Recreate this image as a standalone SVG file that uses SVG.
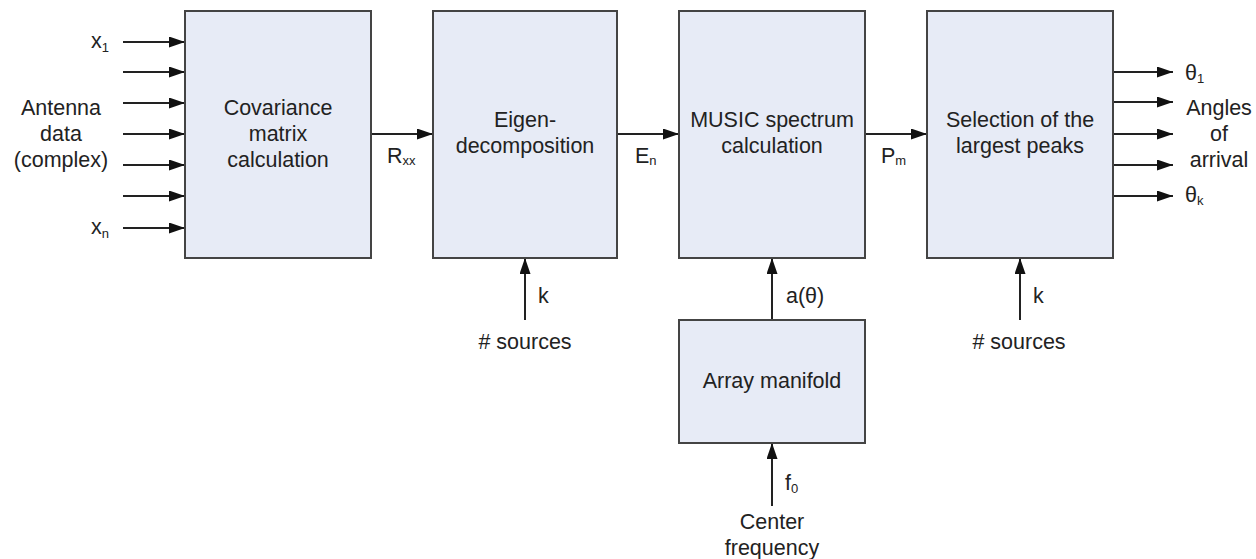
<svg xmlns="http://www.w3.org/2000/svg" width="1256" height="559" viewBox="0 0 1256 559">
  <style>
    .box { fill: #e7ebf6; stroke: #444; stroke-width: 2; }
    .lbl { font-family: "Liberation Sans", Arial, sans-serif; font-size: 21.5px; fill: #222; }
    .mid { text-anchor: middle; }
    .sub { font-size: 13px; }
    .wire { stroke: #222; stroke-width: 2; fill: none; marker-end: url(#head); }
  </style>
  <defs>
    <marker id="head" markerUnits="userSpaceOnUse" markerWidth="17" markerHeight="12" refX="16" refY="5.5" orient="auto">
      <path d="M0,0 L16,5.5 L0,11 z" fill="#111"/>
    </marker>
  </defs>

  <!-- connectors -->
  <g id="connectors">
    <!-- antenna inputs -->
    <line class="wire" x1="123" y1="42" x2="185" y2="42"/>
    <line class="wire" x1="123" y1="72" x2="185" y2="72"/>
    <line class="wire" x1="123" y1="103" x2="185" y2="103"/>
    <line class="wire" x1="123" y1="134" x2="185" y2="134"/>
    <line class="wire" x1="123" y1="165" x2="185" y2="165"/>
    <line class="wire" x1="123" y1="196" x2="185" y2="196"/>
    <line class="wire" x1="123" y1="228" x2="185" y2="228"/>
    <!-- main chain -->
    <line class="wire" x1="371" y1="134" x2="433" y2="134"/>
    <line class="wire" x1="617" y1="134" x2="679" y2="134"/>
    <line class="wire" x1="865" y1="134" x2="927" y2="134"/>
    <!-- side inputs -->
    <line class="wire" x1="525" y1="320" x2="525" y2="258"/>
    <line class="wire" x1="772" y1="320" x2="772" y2="258"/>
    <line class="wire" x1="772" y1="506" x2="772" y2="443"/>
    <line class="wire" x1="1020" y1="320" x2="1020" y2="258"/>
    <!-- outputs -->
    <line class="wire" x1="1113" y1="72" x2="1173" y2="72"/>
    <line class="wire" x1="1113" y1="102" x2="1173" y2="102"/>
    <line class="wire" x1="1113" y1="134" x2="1173" y2="134"/>
    <line class="wire" x1="1113" y1="165" x2="1173" y2="165"/>
    <line class="wire" x1="1113" y1="196" x2="1173" y2="196"/>
  </g>

  <!-- connector labels -->
  <g id="labels">
    <text class="lbl" x="91" y="48">x<tspan class="sub" dy="4">1</tspan></text>
    <text class="lbl" x="91" y="234">x<tspan class="sub" dy="4">n</tspan></text>
    <text class="lbl mid" x="61" y="115">Antenna</text>
    <text class="lbl mid" x="61" y="141">data</text>
    <text class="lbl mid" x="61" y="167">(complex)</text>
    <text class="lbl" x="387" y="163">R<tspan class="sub" dy="2">xx</tspan></text>
    <text class="lbl" x="635" y="163">E<tspan class="sub" dy="2">n</tspan></text>
    <text class="lbl" x="881" y="163">P<tspan class="sub" dy="2">m</tspan></text>
    <text class="lbl" x="538" y="303">k</text>
    <text class="lbl mid" x="525" y="349"># sources</text>
    <text class="lbl" x="786" y="303">a(θ)</text>
    <text class="lbl" x="785" y="490">f<tspan class="sub" dy="3">0</tspan></text>
    <text class="lbl mid" x="772" y="529">Center</text>
    <text class="lbl mid" x="772" y="555">frequency</text>
    <text class="lbl" x="1033" y="303">k</text>
    <text class="lbl mid" x="1019" y="349"># sources</text>
    <text class="lbl" x="1185" y="80">θ<tspan class="sub" dy="3">1</tspan></text>
    <text class="lbl mid" x="1219" y="115">Angles</text>
    <text class="lbl mid" x="1219" y="141">of</text>
    <text class="lbl mid" x="1219" y="167">arrival</text>
    <text class="lbl" x="1185" y="202">θ<tspan class="sub" dy="3">k</tspan></text>
  </g>

  <g id="covariance">
    <rect class="box" x="185" y="11" width="186" height="247"/>
    <text class="lbl mid" x="278" y="115">Covariance</text>
    <text class="lbl mid" x="278" y="141">matrix</text>
    <text class="lbl mid" x="278" y="167">calculation</text>
  </g>

  <g id="eigen">
    <rect class="box" x="433" y="11" width="184" height="247"/>
    <text class="lbl mid" x="525" y="127">Eigen-</text>
    <text class="lbl mid" x="525" y="153">decomposition</text>
  </g>

  <g id="music">
    <rect class="box" x="679" y="11" width="186" height="247"/>
    <text class="lbl mid" x="772" y="127">MUSIC spectrum</text>
    <text class="lbl mid" x="772" y="153">calculation</text>
  </g>

  <g id="peaks">
    <rect class="box" x="927" y="11" width="186" height="247"/>
    <text class="lbl mid" x="1020" y="127">Selection of the</text>
    <text class="lbl mid" x="1020" y="153">largest peaks</text>
  </g>

  <g id="manifold">
    <rect class="box" x="679" y="320" width="186" height="123"/>
    <text class="lbl mid" x="772" y="388">Array manifold</text>
  </g>
</svg>
